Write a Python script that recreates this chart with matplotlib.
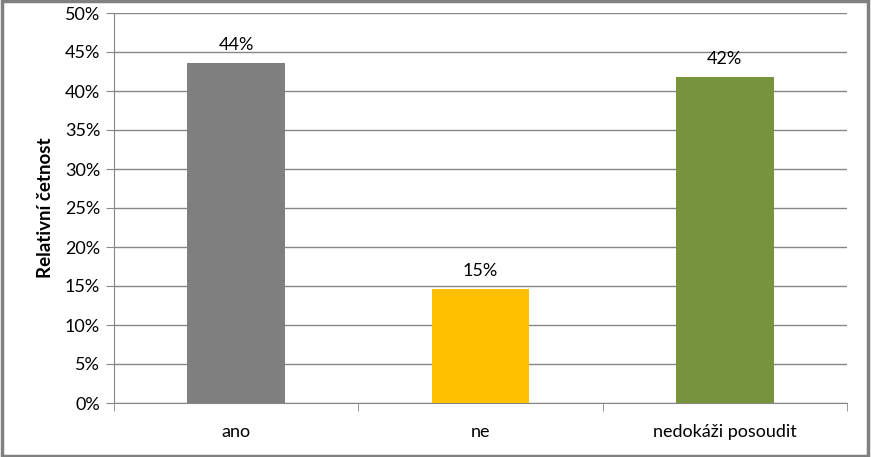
import matplotlib
matplotlib.use("Agg")
import matplotlib.pyplot as plt
from matplotlib.patches import Rectangle
from matplotlib.ticker import PercentFormatter

plt.rcParams['font.family'] = ['Lato', 'DejaVu Sans']

categories = ['ano', 'ne', 'nedokáži posoudit']
values = [43.6, 14.6, 41.8]
colors = ['#7F7F7F', '#FFC000', '#77933C']
yticks = [0, 5, 10, 15, 20, 25, 30, 35, 40, 45, 50]

grid_col = '#868686'

fig = plt.figure(figsize=(8.71, 4.57), dpi=100)
ax = fig.add_axes([114 / 871, 1 - 403 / 457, (847 - 114) / 871, (403 - 13) / 457])

x = list(range(len(categories)))
ax.bar(x, values, width=0.4, color=colors, zorder=3)
for xi, v in zip(x, values):
    ax.text(xi, v + 1.3, f'{round(v)}%', ha='center', va='bottom', fontsize=13)

ax.set_xlim(-0.5, len(categories) - 0.5)
ax.set_ylim(0, 50)
ax.set_yticks(yticks)
ax.yaxis.set_major_formatter(PercentFormatter(decimals=0))
ax.grid(axis='y', color=grid_col, linewidth=1, zorder=0)
ax.set_axisbelow(True)

ax.set_xticks(x)
ax.set_xticklabels(categories, fontsize=13)
ax.set_xticks([-0.5, 0.5, 1.5, 2.5], minor=True)
ax.tick_params(axis='x', which='major', length=0, pad=15)
ax.tick_params(axis='x', which='minor', length=6, color=grid_col, direction='out')
ax.tick_params(axis='y', length=6, color=grid_col, labelsize=13, pad=4)

for s in ['top', 'right']:
    ax.spines[s].set_visible(False)
for s in ['left', 'bottom']:
    ax.spines[s].set_color(grid_col)

ax.set_ylabel('Relativní četnost', fontsize=13.5, fontweight='bold', labelpad=8)

fig.add_artist(Rectangle((0.002, 0.003), 0.995, 0.994, transform=fig.transFigure,
                         fill=False, edgecolor='#808080', linewidth=2.5))

fig.savefig('out.png', dpi=100)
